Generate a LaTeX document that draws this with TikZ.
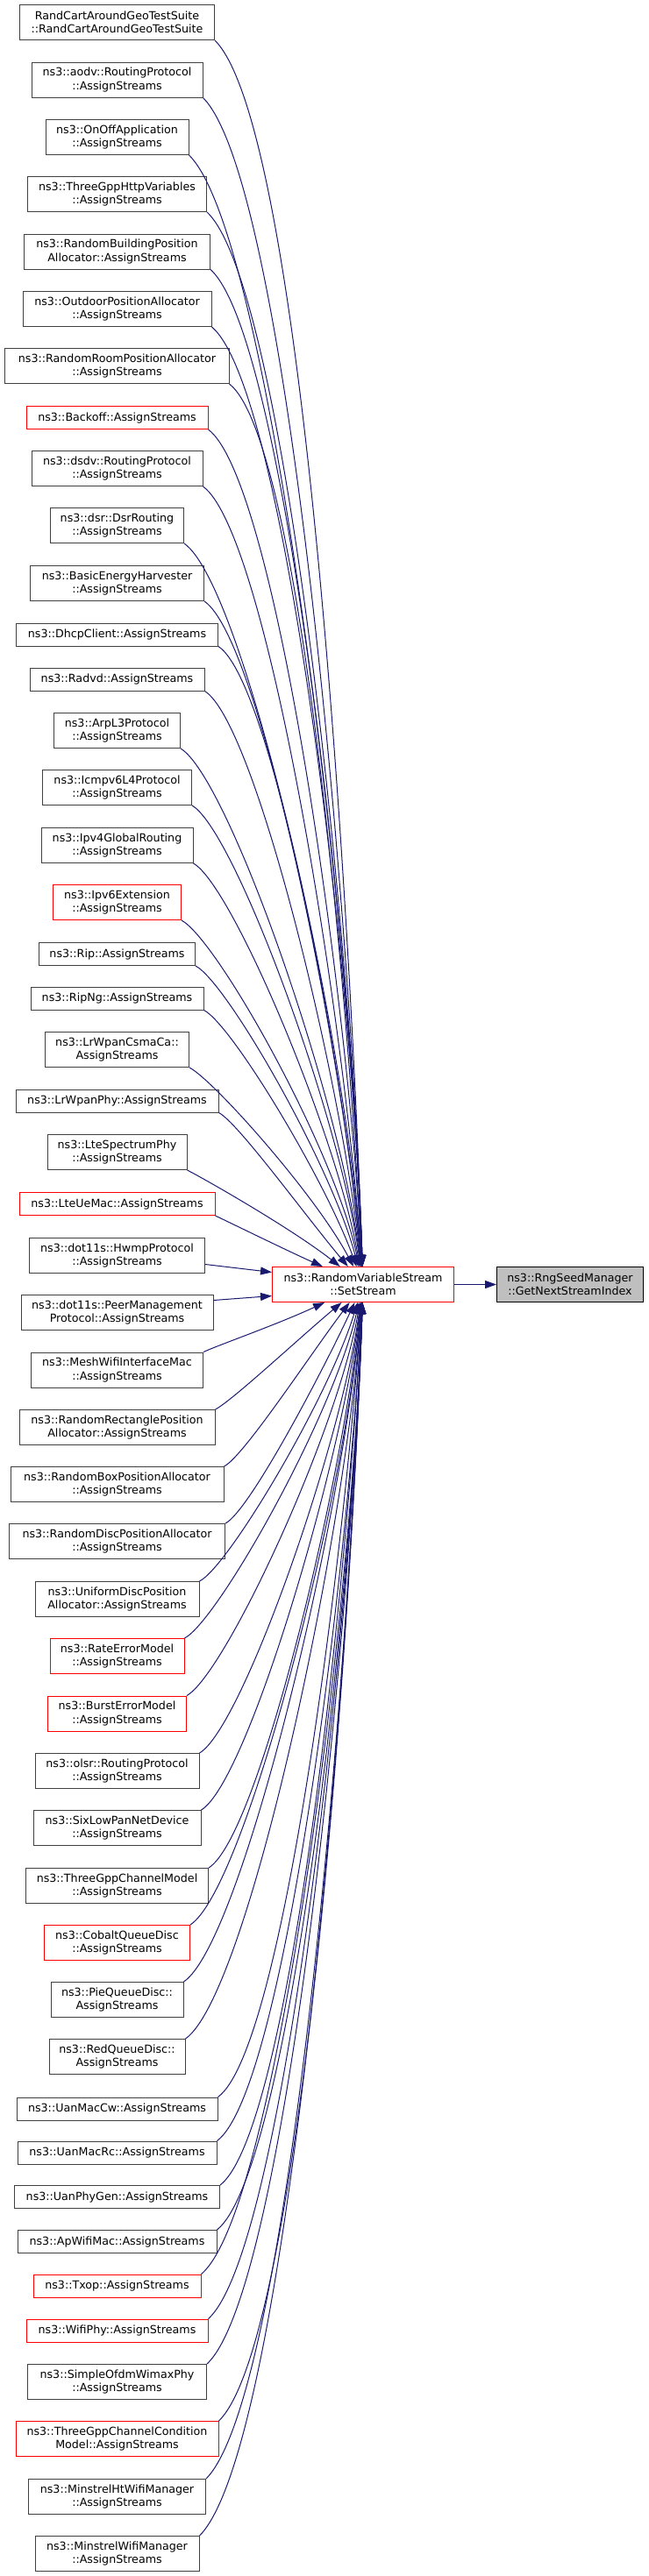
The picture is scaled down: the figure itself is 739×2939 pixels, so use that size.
\documentclass[tikz,border=0pt]{standalone}
\usepackage{fontspec}
\setmainfont{DejaVu Sans}
\usetikzlibrary{arrows.meta}
\definecolor{edgeblue}{HTML}{191970}
\definecolor{boxgrey}{HTML}{404040}
\definecolor{rootgrey}{HTML}{BFBFBF}
\tikzset{
  fn/.style={draw=boxgrey, line width=1pt, fill=white, align=center,
    inner xsep=0pt, inner ysep=0pt, minimum height=40pt,
    font=\fontsize{12.67}{15.3}\selectfont},
  fnred/.style={fn, draw=red},
  one/.style={minimum height=26pt},
  call/.style={edgeblue, line width=1pt, -{Triangle[length=13pt,width=9pt]}}
}

\begin{document}
\begin{tikzpicture}[x=1pt,y=1pt]
    \useasboundingbox (-0.5,0.5) rectangle (738.5,-2938.5);
    \node[fnred, minimum width=207pt] (set) at (413.5,-1465) {ns3::RandomVariableStream\\::SetStream};
    \node[fn, draw=black, fill=rootgrey, minimum width=167pt] (gnsi) at (649.5,-1465) {ns3::RngSeedManager\\::GetNextStreamIndex};
    \node[fn, minimum width=222pt] (randcart) at (133,-25) {RandCartAroundGeoTestSuite\\::RandCartAroundGeoTestSuite};
    \node[fn, minimum width=195pt] (aodv) at (133,-90.5) {ns3::aodv::RoutingProtocol\\::AssignStreams};
    \node[fn, minimum width=163pt] (onoff) at (133,-156) {ns3::OnOffApplication\\::AssignStreams};
    \node[fn, minimum width=204pt] (http) at (133,-221) {ns3::ThreeGppHttpVariables\\::AssignStreams};
    \node[fn, minimum width=212pt] (rbpa) at (133,-286.5) {ns3::RandomBuildingPosition\\Allocator::AssignStreams};
    \node[fn, minimum width=215pt] (outdoor) at (133,-352) {ns3::OutdoorPositionAllocator\\::AssignStreams};
    \node[fn, minimum width=255pt] (roompa) at (133,-417) {ns3::RandomRoomPositionAllocator\\::AssignStreams};
    \node[fnred, one, minimum width=207pt] (backoff) at (133,-476) {ns3::Backoff::AssignStreams};
    \node[fn, minimum width=195pt] (dsdv) at (133,-534) {ns3::dsdv::RoutingProtocol\\::AssignStreams};
    \node[fn, minimum width=152pt] (dsr) at (133,-599) {ns3::dsr::DsrRouting\\::AssignStreams};
    \node[fn, minimum width=198pt] (energy) at (133,-665) {ns3::BasicEnergyHarvester\\::AssignStreams};
    \node[fn, one, minimum width=230pt] (dhcp) at (133,-723.5) {ns3::DhcpClient::AssignStreams};
    \node[fn, one, minimum width=199pt] (radvd) at (133,-774.5) {ns3::Radvd::AssignStreams};
    \node[fn, minimum width=144pt] (arp) at (133,-833) {ns3::ArpL3Protocol\\::AssignStreams};
    \node[fn, minimum width=170pt] (icmpv6) at (133,-898) {ns3::Icmpv6L4Protocol\\::AssignStreams};
    \node[fn, minimum width=173pt] (ipv4gr) at (133,-964) {ns3::Ipv4GlobalRouting\\::AssignStreams};
    \node[fnred, minimum width=146pt] (ipv6ext) at (133,-1029) {ns3::Ipv6Extension\\::AssignStreams};
    \node[fn, one, minimum width=178pt] (rip) at (133,-1088) {ns3::Rip::AssignStreams};
    \node[fn, one, minimum width=197pt] (ripng) at (133,-1138.5) {ns3::RipNg::AssignStreams};
    \node[fn, minimum width=164pt] (csmaca) at (133,-1197) {ns3::LrWpanCsmaCa::\\AssignStreams};
    \node[fn, one, minimum width=231pt] (lrphy) at (133,-1255.5) {ns3::LrWpanPhy::AssignStreams};
    \node[fn, minimum width=159pt] (ltephy) at (133,-1314) {ns3::LteSpectrumPhy\\::AssignStreams};
    \node[fnred, one, minimum width=223pt] (ltemac) at (133,-1373) {ns3::LteUeMac::AssignStreams};
    \node[fn, minimum width=200pt] (hwmp) at (133,-1432) {ns3::dot11s::HwmpProtocol\\::AssignStreams};
    \node[fn, minimum width=219pt] (peer) at (133,-1497) {ns3::dot11s::PeerManagement\\Protocol::AssignStreams};
    \node[fn, minimum width=196pt] (meshmac) at (133,-1562.5) {ns3::MeshWifiInterfaceMac\\::AssignStreams};
    \node[fn, minimum width=223pt] (rrpa) at (133,-1628) {ns3::RandomRectanglePosition\\Allocator::AssignStreams};
    \node[fn, minimum width=243pt] (rbox) at (133,-1693) {ns3::RandomBoxPositionAllocator\\::AssignStreams};
    \node[fn, minimum width=246pt] (rdisc) at (133,-1758) {ns3::RandomDiscPositionAllocator\\::AssignStreams};
    \node[fn, minimum width=187pt] (udisc) at (133,-1824) {ns3::UniformDiscPosition\\Allocator::AssignStreams};
    \node[fnred, minimum width=153pt] (rateerr) at (133,-1889) {ns3::RateErrorModel\\::AssignStreams};
    \node[fnred, minimum width=158pt] (bursterr) at (133,-1954.5) {ns3::BurstErrorModel\\::AssignStreams};
    \node[fn, minimum width=187pt] (olsr) at (133,-2020) {ns3::olsr::RoutingProtocol\\::AssignStreams};
    \node[fn, minimum width=191pt] (sixlow) at (133,-2085) {ns3::SixLowPanNetDevice\\::AssignStreams};
    \node[fn, minimum width=208pt] (tgcm) at (133,-2151) {ns3::ThreeGppChannelModel\\::AssignStreams};
    \node[fnred, minimum width=166pt] (cobalt) at (133,-2216) {ns3::CobaltQueueDisc\\::AssignStreams};
    \node[fn, minimum width=151pt] (pie) at (133,-2281) {ns3::PieQueueDisc::\\AssignStreams};
    \node[fn, minimum width=155pt] (redq) at (133,-2346) {ns3::RedQueueDisc::\\AssignStreams};
    \node[fn, one, minimum width=229pt] (uancw) at (133,-2405.5) {ns3::UanMacCw::AssignStreams};
    \node[fn, one, minimum width=227pt] (uanrc) at (133,-2455.5) {ns3::UanMacRc::AssignStreams};
    \node[fn, one, minimum width=234pt] (uanphy) at (133,-2506) {ns3::UanPhyGen::AssignStreams};
    \node[fn, one, minimum width=227pt] (apmac) at (133,-2557) {ns3::ApWifiMac::AssignStreams};
    \node[fnred, one, minimum width=191pt] (txop) at (133,-2607.5) {ns3::Txop::AssignStreams};
    \node[fnred, one, minimum width=207pt] (wifiphy) at (133,-2658.5) {ns3::WifiPhy::AssignStreams};
    \node[fn, minimum width=204pt] (ofdm) at (133,-2717) {ns3::SimpleOfdmWimaxPhy\\::AssignStreams};
    \node[fnred, minimum width=231pt] (tgcc) at (133,-2782) {ns3::ThreeGppChannelCondition\\Model::AssignStreams};
    \node[fn, minimum width=202pt] (minht) at (133,-2848) {ns3::MinstrelHtWifiManager\\::AssignStreams};
    \node[fn, minimum width=187pt] (minstrel) at (133,-2913) {ns3::MinstrelWifiManager\\::AssignStreams};

    \draw[call] (set) -- (gnsi);

    \draw[call] (randcart.south east) .. controls +(-45:141) and +(92:437) .. (set.92);
    \draw[call] (aodv.south east) .. controls +(-45:135) and +(92:418) .. (set.92);
    \draw[call] (onoff.south east) .. controls +(-44:128) and +(92:398) .. (set.92);
    \draw[call] (http.south east) .. controls +(-43:122) and +(92:377) .. (set.92);
    \draw[call] (rbpa.south east) .. controls +(-42:115) and +(92:357) .. (set.92);
    \draw[call] (outdoor.south east) .. controls +(-40:109) and +(92:337) .. (set.92);
    \draw[call] (roompa.south east) .. controls +(-38:102) and +(93:316) .. (set.93);
    \draw[call] (backoff.south east) .. controls +(-37:97) and +(93:301) .. (set.93);
    \draw[call] (dsdv.south east) .. controls +(-36:91) and +(94:282) .. (set.94);
    \draw[call] (dsr.south east) .. controls +(-35:85) and +(94:264) .. (set.94);
    \draw[call] (energy.south east) .. controls +(-34:78) and +(95:242) .. (set.95);
    \draw[call] (dhcp.south east) .. controls +(-33:73) and +(95:225) .. (set.95);
    \draw[call] (radvd.south east) .. controls +(-32:68) and +(96:211) .. (set.96);
    \draw[call] (arp.south east) .. controls +(-31:63) and +(97:194) .. (set.97);
    \draw[call] (icmpv6.south east) .. controls +(-30:56) and +(98:174) .. (set.98);
    \draw[call] (ipv4gr.south east) .. controls +(-29:50) and +(100:155) .. (set.100);
    \draw[call] (ipv6ext.south east) .. controls +(-28:45) and +(102:139) .. (set.102);
    \draw[call] (rip.south east) .. controls +(-27:39) and +(105:122) .. (set.105);
    \draw[call] (ripng.south east) .. controls +(-27:35) and +(110:107) .. (set.110);
    \draw[call] (csmaca.south east) .. controls +(-27:30) and +(118:94) .. (set.118);
    \draw[call] (lrphy.south east) .. controls +(-27:24) and +(130:76) .. (set.130);
    \draw[call] (ltephy.south east) .. controls +(-27:23) and +(142:71) .. (set.142);
    \draw[call] (ltemac.south east) .. controls +(-25:14) and +(156:43) .. (set.156);
    \draw[call] ([yshift=-10pt]hwmp.east) -- ([yshift=14pt]set.west);
    \draw[call] ([yshift=14pt]peer.east) -- ([yshift=-13pt]set.west);
    \draw[call] (meshmac.north east) .. controls +(25:19) and +(-155:59) .. (set.-155);
    \draw[call] (rrpa.north east) .. controls +(27:21) and +(-140:64) .. (set.-140);
    \draw[call] (rbox.north east) .. controls +(27:25) and +(-127:76) .. (set.-127);
    \draw[call] (rdisc.north east) .. controls +(27:30) and +(-115:92) .. (set.-115);
    \draw[call] (udisc.north east) .. controls +(27:37) and +(-107:114) .. (set.-107);
    \draw[call] (rateerr.north east) .. controls +(28:43) and +(-103:135) .. (set.-103);
    \draw[call] (bursterr.north east) .. controls +(29:49) and +(-100:153) .. (set.-100);
    \draw[call] (olsr.north east) .. controls +(30:55) and +(-98:170) .. (set.-98);
    \draw[call] (sixlow.north east) .. controls +(31:61) and +(-97:189) .. (set.-97);
    \draw[call] (tgcm.north east) .. controls +(32:67) and +(-96:208) .. (set.-96);
    \draw[call] (cobalt.north east) .. controls +(33:74) and +(-95:229) .. (set.-95);
    \draw[call] (pie.north east) .. controls +(34:80) and +(-95:249) .. (set.-95);
    \draw[call] (redq.north east) .. controls +(35:87) and +(-94:268) .. (set.-94);
    \draw[call] (uancw.north east) .. controls +(36:92) and +(-94:286) .. (set.-94);
    \draw[call] (uanrc.north east) .. controls +(37:97) and +(-93:301) .. (set.-93);
    \draw[call] (uanphy.north east) .. controls +(38:102) and +(-93:317) .. (set.-93);
    \draw[call] (apmac.north east) .. controls +(39:107) and +(-92:332) .. (set.-92);
    \draw[call] (txop.north east) .. controls +(40:113) and +(-92:349) .. (set.-92);
    \draw[call] (wifiphy.north east) .. controls +(42:117) and +(-92:364) .. (set.-92);
    \draw[call] (ofdm.north east) .. controls +(43:123) and +(-92:380) .. (set.-92);
    \draw[call] (tgcc.north east) .. controls +(44:129) and +(-92:399) .. (set.-92);
    \draw[call] (minht.north east) .. controls +(45:136) and +(-92:420) .. (set.-92);
    \draw[call] (minstrel.north east) .. controls +(45:142) and +(-92:440) .. (set.-92);
\end{tikzpicture}
\end{document}
